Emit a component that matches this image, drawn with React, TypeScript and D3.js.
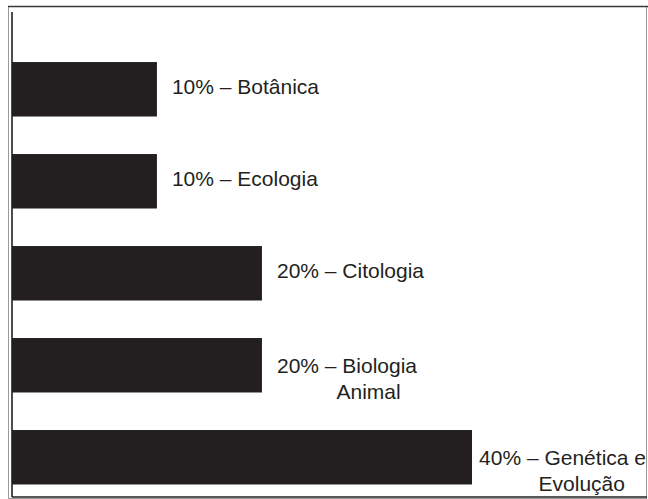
import { useEffect } from 'react';
import * as d3 from 'd3';

const categories = ['Botânica', 'Ecologia', 'Citologia', 'Biologia\nAnimal', 'Genética e\nEvolução'];
const percents = [10, 10, 20, 20, 40];

const App = () => {

    useEffect(() => {
        const width = 648;
        const height = 499;
        document.body.style.margin = '0';

        const svg = d3.select('#bar-chart');
        svg.selectAll('*').remove();

        // frame
        svg.append('rect')
            .attr('x', 8.5).attr('y', 6.5)
            .attr('width', 638).attr('height', 492)
            .attr('fill', 'none')
            .attr('stroke', '#9a9a9a')
            .attr('stroke-width', 1);
        svg.append('line')
            .attr('x1', 8).attr('x2', 648).attr('y1', 6.5).attr('y2', 6.5)
            .attr('stroke', '#3a3a3a').attr('stroke-width', 1.5);

        const left = 12;
        const bottom = 497;

        const xScale = d3.scaleLinear()
            .domain([-3.8, 40])
            .range([left, 472]);

        const yScale = d3.scaleBand()
            .domain(categories)
            .range([12, bottom])
            .paddingInner(0.408)
            .paddingOuter(0.34)
            .align(0.8);

        const chart = svg.append('g');

        chart.selectAll()
            .data(categories)
            .enter()
            .append('rect')
            .attr('x', xScale(-3.8))
            .attr('y', d => yScale(d))
            .attr('width', (d, i) => xScale(percents[i]) - xScale(-3.8))
            .attr('height', yScale.bandwidth())
            .attr('fill', '#231f20');

        // axis lines
        chart.append('line')
            .attr('x1', left).attr('x2', left).attr('y1', 12).attr('y2', bottom)
            .attr('stroke', '#231f20').attr('stroke-width', 1.6);
        chart.append('line')
            .attr('x1', left).attr('x2', 647).attr('y1', bottom).attr('y2', bottom)
            .attr('stroke', '#231f20').attr('stroke-width', 1.4);

        const fontSize = 21;
        const lineHeight = 25.5;

        categories.forEach((cat, i) => {
            const lines = cat.split('\n');
            const prefix = `${percents[i]}% – `;
            const cy = yScale(cat) + yScale.bandwidth() / 2;
            const y0 = lines.length > 1 ? cy : cy - 3;

            const label = chart.append('text')
                .attr('font-family', '"Liberation Sans", Arial, Helvetica, sans-serif')
                .attr('font-size', fontSize)
                .attr('fill', '#231f20')
                .attr('dominant-baseline', 'central');

            const first = label.append('tspan')
                .attr('y', y0)
                .text(prefix + lines[0]);
            const prefixWidth = (label.append('tspan').text(prefix).attr('visibility', 'hidden').node() as SVGTextContentElement).getComputedTextLength();
            label.select('tspan:last-child').remove();

            const textWidth = (first.node() as SVGTextContentElement).getComputedTextLength();
            const x = Math.min(xScale(percents[i]) + 15, width - 2 - textWidth);
            first.attr('x', x);

            lines.slice(1).forEach((ln, j) => {
                label.append('tspan')
                    .attr('x', x + prefixWidth)
                    .attr('y', y0 + lineHeight * (j + 1))
                    .text(ln);
            });
        });
    }, []);

    return (
        <svg id="bar-chart" width="648" height="499" style={{ display: 'block' }}></svg>
    );
}

export default App;
